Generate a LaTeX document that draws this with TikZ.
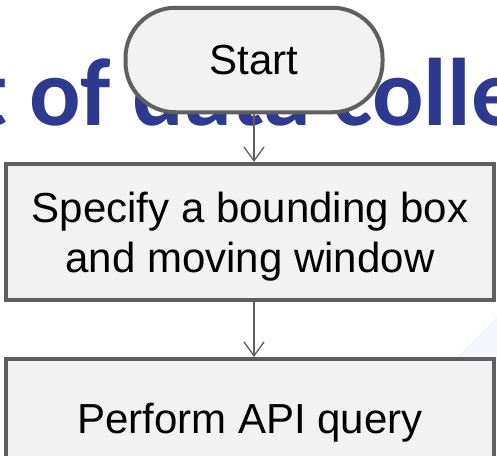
\documentclass[tikz,border=0pt]{standalone}
\usepackage{fontspec}
\setmainfont{Liberation Sans}
\newfontfamily\titlefont{Carlito}
\usetikzlibrary{arrows.meta}
\definecolor{titleblue}{HTML}{2E3A8F}
\definecolor{boxborder}{HTML}{5F5F5F}
\definecolor{boxfill}{HTML}{F2F2F2}
\definecolor{faintblue}{HTML}{F6F7FD}
\begin{document}
\begin{tikzpicture}[x=1pt,y=-1pt,
  stepbox/.style={draw=boxborder, line width=4pt, fill=boxfill, font=\fontsize{42}{50}\selectfont, align=center, inner sep=0pt},
  flowarrow/.style={draw=boxborder, line width=1.3pt, -{Straight Barb[length=14pt,width=20pt,line width=1.3pt]}}]
\useasboundingbox (0,0) rectangle (497,455);
\clip (0,0) rectangle (497,455);
\fill[white] (0,0) rectangle (497,455);
\fill[faintblue] (452,362) -- (497,316) -- (497,362) -- cycle;
\node[anchor=base west, text=titleblue, inner sep=0pt, font=\titlefont\bfseries\fontsize{96}{100}\selectfont] (title) at (-26,125) {t of data colle};
\node[stepbox, minimum width=488, minimum height=136, text depth=0pt] (spec) at (250,232) {Specify a bounding box\\and moving window};
\node[stepbox, minimum width=488, minimum height=128] (query) at (250,423) {Perform API query};
\node[stepbox, minimum width=257, minimum height=104.5, rounded corners=50pt] (start) at (254,60) {Start};
\draw[flowarrow] (start.south) -- (start.south |- spec.north);
\draw[flowarrow] (spec.south -| start.south) -- (start.south |- query.north);
\end{tikzpicture}
\end{document}
